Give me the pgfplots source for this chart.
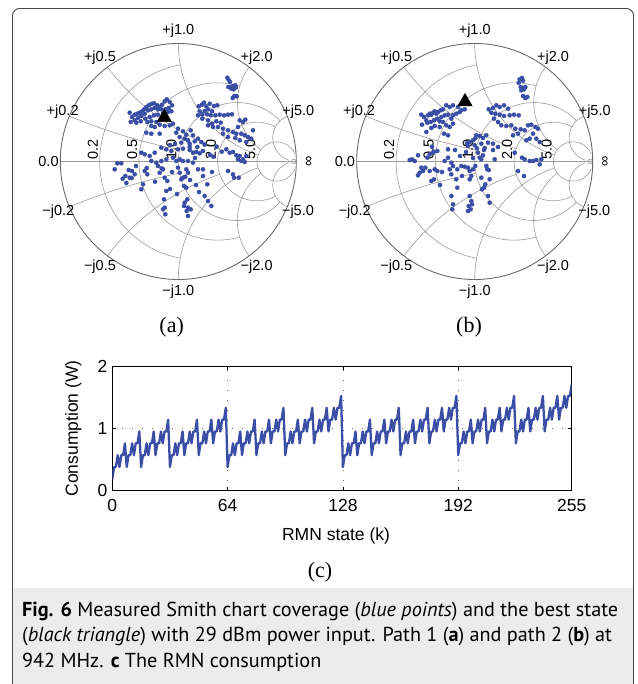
\documentclass[border=0pt]{standalone}
\usepackage{pgfplots}
\pgfplotsset{compat=1.18}
\usepackage{graphicx}
\usepackage{fontspec}
\setmainfont{Liberation Serif}
\setsansfont{Liberation Sans}
\newfontfamily\capfont{PT Sans}
\definecolor{dotblue}{RGB}{58,78,166}
\definecolor{gridgray}{RGB}{155,155,155}
\definecolor{rimgray}{RGB}{105,105,105}
\definecolor{capbg}{RGB}{236,236,236}
\definecolor{framegray}{RGB}{70,70,70}
\tikzset{sg/.style={draw=gridgray, line width=0.6pt}}
\newcommand{\smithgrid}[2]{%
\begin{scope}[shift={(#1,#2)}, x=118pt, y=118pt]
\draw[sg] (-1,0) -- (1,0);
\draw[sg] (0.16667,0) ++(100.39:0.83333) arc[start angle=100.39, end angle=259.61, radius=0.83333];
\draw[sg] (0.33333,0) ++(73.74:0.66667) arc[start angle=73.74, end angle=286.26, radius=0.66667];
\draw[sg] (0.5,0) ++(43.60:0.5) arc[start angle=43.60, end angle=316.40, radius=0.5];
\draw[sg] (0.66667,0) ++(61.93:0.33333) arc[start angle=61.93, end angle=298.07, radius=0.33333];
\draw[sg] (0.83333,0) ++(22.62:0.16667) arc[start angle=22.62, end angle=337.38, radius=0.16667];
\draw[sg] (1,5) ++(247.38:5) arc[start angle=247.38, end angle=258.58, radius=5];
\draw[sg] (1,2) ++(216.87:2) arc[start angle=216.87, end angle=251.08, radius=2];
\draw[sg] (1,1) ++(180:1) arc[start angle=180, end angle=251.08, radius=1];
\draw[sg] (1,0.5) ++(143.13:0.5) arc[start angle=143.13, end angle=233.13, radius=0.5];
\draw[sg] (1,0.2) ++(112.62:0.2) arc[start angle=112.62, end angle=251.67, radius=0.2];
\draw[sg] (1,-5) ++(112.62:5) arc[start angle=112.62, end angle=101.42, radius=5];
\draw[sg] (1,-2) ++(143.13:2) arc[start angle=143.13, end angle=108.92, radius=2];
\draw[sg] (1,-1) ++(180:1) arc[start angle=180, end angle=108.92, radius=1];
\draw[sg] (1,-0.5) ++(216.87:0.5) arc[start angle=216.87, end angle=126.87, radius=0.5];
\draw[sg] (1,-0.2) ++(247.38:0.2) arc[start angle=247.38, end angle=108.33, radius=0.2];
\draw[sg] (0.978,0) circle[radius=0.02];
\draw[draw=rimgray, line width=0.9pt] (0,0) circle[radius=1];
\begin{scope}[font=\sffamily\fontsize{14.5}{15}\selectfont]
\node at (0,1.105) {+j1.0};
\node at (-0.664,0.877) {+j0.5};
\node at (0.664,0.877) {+j2.0};
\node at (-0.98,0.422) {+j0.2};
\node at (1.017,0.422) {+j5.0};
\node at (-1.10,0) {0.0};
\node[rotate=90] at (1.11,0) {∞};
\node at (-1.017,-0.425) {−j0.2};
\node at (1.014,-0.425) {−j5.0};
\node at (-0.664,-0.89) {−j0.5};
\node at (0.664,-0.89) {−j2.0};
\node at (0,-1.103) {−j1.0};
\node[rotate=90, anchor=south west, inner sep=1.5pt] at (-0.66667,0) {0.2};
\node[rotate=90, anchor=south west, inner sep=1.5pt] at (-0.33333,0) {0.5};
\node[rotate=90, anchor=south west, inner sep=1.5pt] at (0,0) {1.0};
\node[rotate=90, anchor=south west, inner sep=1.5pt] at (0.33333,0) {2.0};
\node[rotate=90, anchor=south west, inner sep=1.5pt] at (0.66667,0) {5.0};
\end{scope}
\end{scope}}
\newcommand{\capA}{\textbf{Fig. 6} Measured Smith chart coverage (\textit{blue points}) and the best state}
\newcommand{\capB}{(\textit{black triangle}) with 29 dBm power input. Path 1 (\textbf{a}) and path 2 (\textbf{b}) at}
\newcommand{\capC}{942 MHz. \textbf{c} The RMN consumption}
\newcommand{\capsize}{\capfont\fontsize{16}{20}\selectfont}
\newlength{\capw}
\begin{document}%
\settowidth{\capw}{\capsize\capA}%
\pgfmathsetmacro{\capscale}{596/\capw}%
\begin{tikzpicture}[x=1pt,y=1pt]
\path[use as bounding box] (0,0) rectangle (637,-684);
\fill[capbg] (12.5,-588) rectangle (633.5,-684);
\draw[framegray, line width=0.9pt] (12.5,-684) -- (12.5,-15.5) arc[start angle=180, end angle=90, radius=7] -- (626.5,-8.5) arc[start angle=90, end angle=0, radius=7] -- (633.5,-684);

\smithgrid{178.3pt}{-161.5pt}
\smithgrid{474.7pt}{-161.5pt}

% chart (a)
\begin{axis}[at={(60.3pt,-43.5pt)}, anchor=north west, x=1pt, y=1pt, y dir=reverse,
  scale only axis, xmin=60.3, xmax=296.3, ymin=43.5, ymax=279.5, hide axis, clip=false]
\addplot[dotblue, only marks, mark=*, mark size=2.1pt, mark options={solid, draw=dotblue, fill=dotblue, line width=0.3pt}] coordinates {
(227.3,77.7)(228.7,80)(230,82)(228.3,87)(230.7,87)(233,86)(235.3,85.3)(231.3,88.7)(233.7,89.3)(236,87.3)(234.3,96)(236.7,96.3)(232.7,98)
(198.7,106.3)(202,104.7)(204,102.7)(206.3,106.3)(209.7,103.7)(214,106)(217.3,105.3)(199.7,111.3)(204.7,111)(208,109.3)(212,111.3)(202.3,114.3)(207,114.3)(210.7,115.3)(215.3,115.3)(219.7,114.7)(224,115.3)(228,114.7)(232,114.3)(198,115.3)(202.3,118.7)(208,120.3)(212,123.7)(216.3,121.3)(220.7,122.7)(208,125.3)(213,127)(218,127)(223,128.7)(228,130.3)(233,132)(236.3,133.7)(239.7,120.3)(243,122)(245.3,119.7)(238,127)(241.3,133.7)(244.7,135.3)(248,137)(251.3,138.7)(235.3,138)(239.7,140.3)(246.3,142)(228,137)(223,133.7)(253,130.3)
(129.7,112.7)(132,117)(134.7,114.7)(137.3,113.7)(139.7,112.7)(142,111.3)(144,109.3)(146.3,107)(148.7,105.3)(151.3,104)(154,103.3)(157.3,105.3)(159.7,107)(162,104.7)(164.7,101.3)(166.7,99.3)(169.7,102)(172,105.3)(168.7,108)(165.3,109.3)(161.3,109.3)(158,109.3)(154.7,108)(151.3,109.3)(148,110.3)(144.7,113.7)(141.3,116)(138,118)(134.7,120.3)(130.7,122)(136.3,122.7)(140.7,121.3)(145.3,118.7)(149.7,117)(154,115.3)(158,114.7)(163,113.7)(168,112)(171.3,111.3)(147.3,122)(151.3,121.3)(156.3,122)(159.7,124.7)(151.3,126)(154.7,127)(146.3,132.7)(151.3,133.7)(159.7,133.7)(164.7,126)(169.7,125.3)(173,123.7)
(178,128.7)(176.3,132.7)(183,131.3)(186.3,134.7)(190.7,130.3)(193,135.3)(188,140.3)(184.7,138.7)(181.3,142.7)(189.7,143.7)(194.7,141.3)(198,138.7)(201.3,142)(204.7,144.7)(197.3,147)(189.7,147)(179.7,137)
(114.7,169.3)(117.3,163.3)(121.3,163.3)(128.7,170)(132,171)(125.3,176)(129.7,177.7)(134.7,174.3)(141.3,152.7)(144.7,154.3)(149.7,156)(154.7,152.7)(161.3,147.7)(166.3,149.3)(171.3,151)(178,149.3)(183,148.7)(189.7,150)(193,152.7)(196.3,152)(199.7,153.3)(203,151)(151.3,161)(156.3,162.7)(161.3,161)(166.3,159.3)(173,157.7)(176.3,161)(179.7,159.3)(183,161)(188,161)(193,162.7)(198,169.3)(203,169.3)(144.7,171)(147.3,174.3)(143,184.3)(141.3,189.3)(158,166)(163,169.3)(159.7,172.7)(164.7,177.7)(167.3,181)(166.3,191)(164,199.3)(164.7,207.7)(165.3,214.3)(163,209.3)(178,167.7)(179.7,172.7)(181.3,179.3)(183,177.7)(185.3,176.7)(188,172.7)(186.3,169.3)(184,186)(186.3,187.7)(187.3,199.3)(184.7,202.7)(184,206)(188,207.7)(186.7,211)(188,216)(190.7,209.3)(203,176)(204.7,196)(207.3,184.3)(208,201)(211.3,206)(226.3,149.3)(229.7,152.7)(233,152)(236.3,155.3)(239.7,156)(243,159.3)(244.7,162)(241.3,161)(238,159.3)(246.3,156)(228,171)(233,174.3)(234,177.7)(238.7,177.7)
(126.3,183)(131.7,178)(146.7,168)(122.7,178.7)(136,166)(155,181.7)(161.7,168.3)(170,145)(175,144)(195,158)(210,155)(213.3,156.7)(216.7,146.7)(221.7,151.7)(212,172)(196,185)(199,192)(172,172)(170,189)(177,194)(190,180)
};
\addplot[only marks, mark=triangle*, mark size=8.3pt, mark options={draw=none, fill=black}] coordinates {(164.3,117.5)};
\end{axis}

% chart (b)
\begin{axis}[at={(356.7pt,-43.5pt)}, anchor=north west, x=1pt, y=1pt, y dir=reverse,
  scale only axis, xmin=356.7, xmax=592.7, ymin=43.5, ymax=279.5, hide axis, clip=false]
\addplot[dotblue, only marks, mark=*, mark size=2.1pt, mark options={solid, draw=dotblue, fill=dotblue, line width=0.3pt}] coordinates {
(519.7,79.3)(522,78)(523,80.7)(518.7,82.7)(520.7,87)(523,88)(525.3,87)(521.3,90.3)(524,89.3)(523,96)(527.3,97)(525.3,98)
(421.3,114.7)(424,117)(422,124.7)(426.3,120.3)(428,115.3)(429.7,113.7)(431.3,114.7)(433,112.7)(434.7,111.3)(436.3,113.7)(438,112)(440.7,110.3)(443,109.3)(446.3,105.3)(449.7,107)(453,105.3)(458,107)(461.3,110.3)(464.7,109.3)(459.7,112)(456.3,113.7)(453,115.3)(448,114.7)(444.7,115.3)(441.3,117)(437.3,118.7)(434,120.3)(430.7,122)(427.3,122.7)(439.7,121.3)(443,122)(446.3,125.3)(449.7,127)(453,123.7)(448,135.3)(444,133.7)(439.7,127)(434.7,126)(431.3,128)(426.3,132)(451.3,118.7)
(488.7,109.3)(493,108)(496.3,105.3)(499.7,107)(504,105.3)(508,108.7)(491.3,112.7)(495.3,113.7)(499.7,114.7)(504,116)(509.7,115.3)(514,114.7)(518.7,115.3)(494,118.7)(498,122)(501.3,125.3)(506.3,126)(511.3,125.3)(515.3,128.7)(520.7,129.3)(524.7,130.3)(528,125.3)(531.3,124.7)(535.3,127)(538,128.7)(533,133.7)(536.3,138.7)(539.7,142)(529.7,138.7)(526.3,140.3)(518,133.7)(513,135.3)
(486.3,135.3)(483,138)(479.7,136)(476.3,135.3)(473,140.3)(469.7,142)(468,146)(474.7,145.3)(481.3,143.7)(488,142.7)(493,143.7)(498,147)(484.7,148)
(409.7,160)(412,159.3)(414.7,161)(418,155.3)(421.3,167.7)(419.7,172.7)(418,175.3)(423,171)(425.3,167.7)(429.7,171)(431.3,181)(434,179.3)(434.7,169.3)(437.3,171)(427.3,157.7)(429.7,154.3)(433,152.7)(437.3,151)(444.7,161)(448,149.3)(448,157.7)(451.3,162.7)(453,166)(449.7,169.3)(451.3,174.3)(457.3,169.3)(456.3,179.3)(457.3,187.7)(451.3,196)(453,204.3)(452.3,209.3)(461.3,166)(464.7,166.7)(468,167.7)(469.7,171)(473,169.3)(475.3,166)(471.3,176)(469.7,179.3)(478,152.7)(479.7,157.7)(481.3,159.3)(483,155.3)(484,150)(486.3,166)(487.3,169.3)(488.7,170)(481.3,177.7)(489.7,179.3)(485.3,184.3)(484,187.7)(482,189.3)(488,196)(489.7,202.7)(469.7,196)(471.3,201)(468.7,206)(470.7,209.3)(468,211)(472,204.3)(493,150)(494.7,159.3)(514.7,152.7)(522,157.7)(524.7,159.3)(529.7,161)(533,161)(536.3,160)(539.7,164.3)(541.3,159.3)(518,171)(524,176)
(432,146.7)(433.7,151.7)(467,143.3)(475.3,138.3)(477,148.3)(466,152)(460,156)(455,150)(473,158)(462,176)(442,172)(440,185)
};
\addplot[only marks, mark=triangle*, mark size=8.3pt, mark options={draw=none, fill=black}] coordinates {(465,101.7)};
\end{axis}

% chart (c)
\begin{axis}[at={(112.3pt,-490.7pt)}, anchor=south west,
  scale only axis, width=459.4pt, height=124.7pt,
  xmin=0, xmax=255, ymin=0, ymax=2,
  xtick={0,64,128,192,255}, ytick={0,1,2},
  tick align=inside, major tick length=4pt,
  xtick pos=both, ytick pos=both, xticklabel pos=lower, yticklabel pos=left,
  grid=major, major grid style={black!60, line width=0.6pt, dash pattern=on 1pt off 9pt},
  axis line style={line width=0.9pt},
  tick style={black, line width=0.8pt},
  /pgf/number format/assume math mode=true,
  ticklabel style={font=\sffamily\fontsize{17.5}{18}\selectfont},
  xticklabel style={yshift=-5pt},
  yticklabel style={xshift=-1.5pt},
  label style={font=\sffamily\fontsize{17.5}{18}\selectfont},
  xlabel={RMN state (k)}, ylabel={Consumption (W)},
  xlabel style={at={(axis description cs:0.487,-0.363)}, anchor=center},
  ylabel style={at={(axis description cs:-0.085,0.5)}, anchor=center},
]
\addplot[dotblue, line width=2.3pt, line join=round] coordinates {
(0,0.19)(1,0.38)(2,0.38)(3,0.57)(4,0.38)(5,0.57)(6,0.57)(7,0.76)(8,0.38)(9,0.57)(10,0.57)(11,0.76)(12,0.57)(13,0.76)(14,0.76)(15,0.95)
(16,0.38)(17,0.57)(18,0.57)(19,0.76)(20,0.57)(21,0.76)(22,0.76)(23,0.95)(24,0.57)(25,0.76)(26,0.76)(27,0.95)(28,0.76)(29,0.95)(30,0.95)(31,1.14)
(32,0.38)(33,0.57)(34,0.57)(35,0.76)(36,0.57)(37,0.76)(38,0.76)(39,0.95)(40,0.57)(41,0.76)(42,0.76)(43,0.95)(44,0.76)(45,0.95)(46,0.95)(47,1.14)
(48,0.57)(49,0.76)(50,0.76)(51,0.95)(52,0.76)(53,0.95)(54,0.95)(55,1.14)(56,0.76)(57,0.95)(58,0.95)(59,1.14)(60,0.95)(61,1.14)(62,1.14)(63,1.33)
(64,0.38)(65,0.57)(66,0.57)(67,0.76)(68,0.57)(69,0.76)(70,0.76)(71,0.95)(72,0.57)(73,0.76)(74,0.76)(75,0.95)(76,0.76)(77,0.95)(78,0.95)(79,1.14)
(80,0.57)(81,0.76)(82,0.76)(83,0.95)(84,0.76)(85,0.95)(86,0.95)(87,1.14)(88,0.76)(89,0.95)(90,0.95)(91,1.14)(92,0.95)(93,1.14)(94,1.14)(95,1.33)
(96,0.57)(97,0.76)(98,0.76)(99,0.95)(100,0.76)(101,0.95)(102,0.95)(103,1.14)(104,0.76)(105,0.95)(106,0.95)(107,1.14)(108,0.95)(109,1.14)(110,1.14)(111,1.33)
(112,0.76)(113,0.95)(114,0.95)(115,1.14)(116,0.95)(117,1.14)(118,1.14)(119,1.33)(120,0.95)(121,1.14)(122,1.14)(123,1.33)(124,1.14)(125,1.33)(126,1.33)(127,1.52)
(128,0.38)(129,0.57)(130,0.57)(131,0.76)(132,0.57)(133,0.76)(134,0.76)(135,0.95)(136,0.57)(137,0.76)(138,0.76)(139,0.95)(140,0.76)(141,0.95)(142,0.95)(143,1.14)
(144,0.57)(145,0.76)(146,0.76)(147,0.95)(148,0.76)(149,0.95)(150,0.95)(151,1.14)(152,0.76)(153,0.95)(154,0.95)(155,1.14)(156,0.95)(157,1.14)(158,1.14)(159,1.33)
(160,0.57)(161,0.76)(162,0.76)(163,0.95)(164,0.76)(165,0.95)(166,0.95)(167,1.14)(168,0.76)(169,0.95)(170,0.95)(171,1.14)(172,0.95)(173,1.14)(174,1.14)(175,1.33)
(176,0.76)(177,0.95)(178,0.95)(179,1.14)(180,0.95)(181,1.14)(182,1.14)(183,1.33)(184,0.95)(185,1.14)(186,1.14)(187,1.33)(188,1.14)(189,1.33)(190,1.33)(191,1.52)
(192,0.57)(193,0.76)(194,0.76)(195,0.95)(196,0.76)(197,0.95)(198,0.95)(199,1.14)(200,0.76)(201,0.95)(202,0.95)(203,1.14)(204,0.95)(205,1.14)(206,1.14)(207,1.33)
(208,0.76)(209,0.95)(210,0.95)(211,1.14)(212,0.95)(213,1.14)(214,1.14)(215,1.33)(216,0.95)(217,1.14)(218,1.14)(219,1.33)(220,1.14)(221,1.33)(222,1.33)(223,1.52)
(224,0.76)(225,0.95)(226,0.95)(227,1.14)(228,0.95)(229,1.14)(230,1.14)(231,1.33)(232,0.95)(233,1.14)(234,1.14)(235,1.33)(236,1.14)(237,1.33)(238,1.33)(239,1.52)
(240,0.95)(241,1.14)(242,1.14)(243,1.33)(244,1.14)(245,1.33)(246,1.33)(247,1.52)(248,1.14)(249,1.33)(250,1.33)(251,1.52)(252,1.33)(253,1.52)(254,1.52)(255,1.71)
};
\end{axis}

\node[font=\fontsize{22}{22}\selectfont] at (171.7,-327) {(a)};
\node[font=\fontsize{22}{22}\selectfont] at (469,-327) {(b)};
\node[font=\fontsize{22}{22}\selectfont] at (320,-572) {(c)};

\node[anchor=base west, inner sep=0pt] at (22,-616) {\scalebox{\capscale}{\capsize\capA}};
\node[anchor=base west, inner sep=0pt] at (22,-641.5) {\scalebox{\capscale}{\capsize\capB}};
\node[anchor=base west, inner sep=0pt] at (22,-667) {\scalebox{\capscale}{\capsize\capC}};
\end{tikzpicture}%
\end{document}
